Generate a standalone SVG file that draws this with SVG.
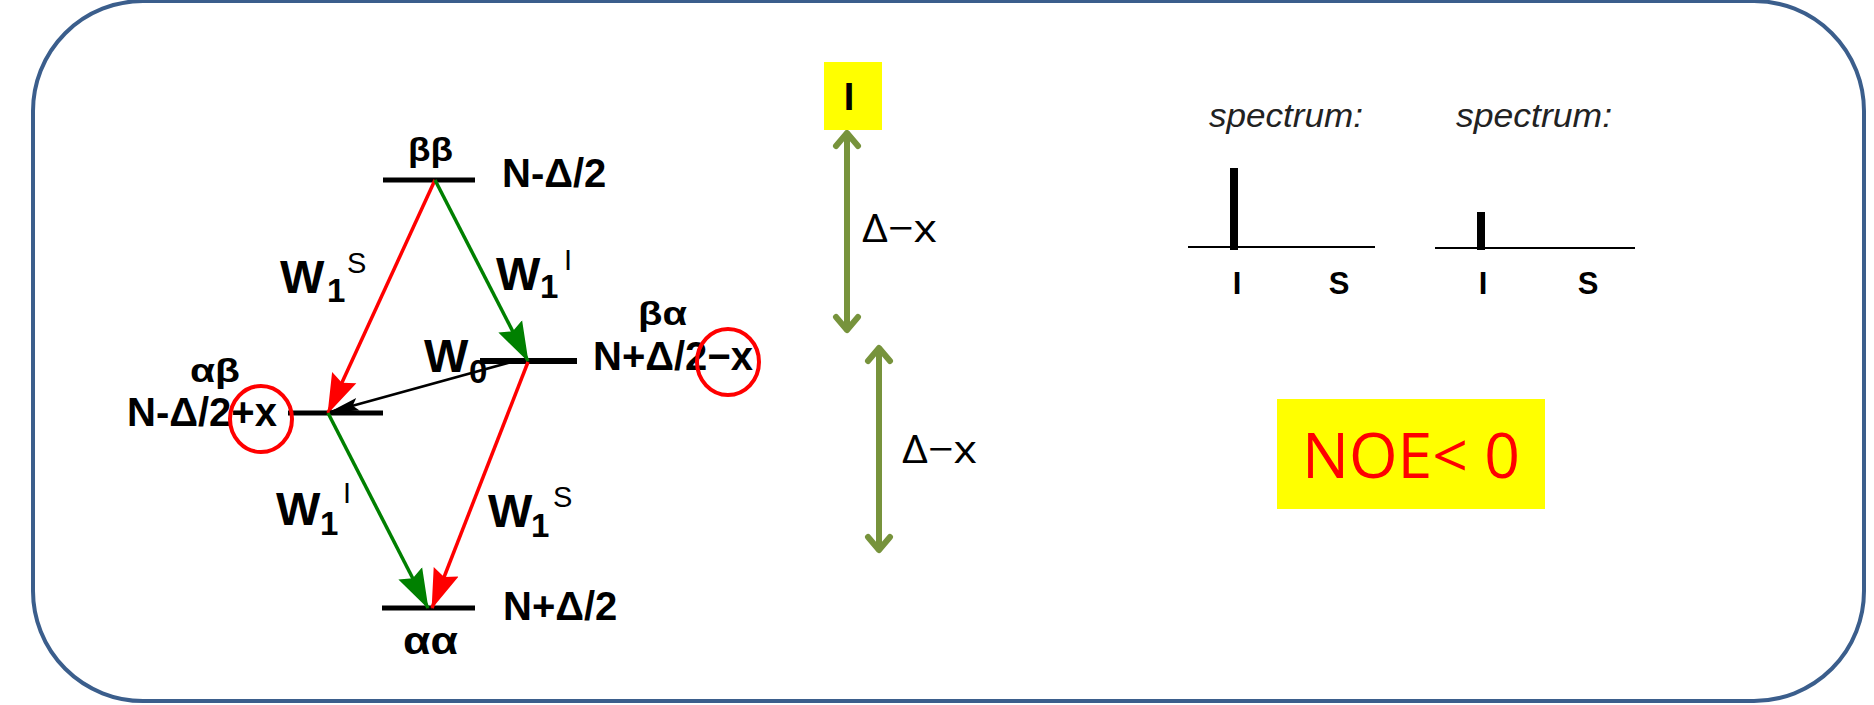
<svg xmlns="http://www.w3.org/2000/svg" width="1874" height="705" viewBox="0 0 1874 705">
<style>
.lvl{stroke:#000;stroke-width:5;fill:none}
.lab{font-family:"Liberation Sans",Arial,sans-serif;font-weight:bold;fill:#000}
.gr{font-family:"Liberation Sans",Arial,sans-serif;font-weight:bold;font-size:34px;fill:#000}
.en{font-family:"Liberation Sans",Arial,sans-serif;font-weight:bold;font-size:40px;fill:#000}
.big{font-size:47px}
.sub{font-size:33px}
.sup{font-size:29px;font-weight:normal}
.red{stroke:#FF0000;stroke-width:3.5;fill:none}
.grn{stroke:#008000;stroke-width:3.5;fill:none}
.blk{stroke:#000;stroke-width:2.5;fill:none}
.ring{stroke:#FF0000;stroke-width:4;fill:none}
.dbl{stroke:#77933C;stroke-width:6;fill:none}
.dx{font-family:"Open Sans","Liberation Sans",sans-serif;font-size:39px;fill:#000}
.spec{font-family:"Liberation Sans",Arial,sans-serif;font-style:italic;font-size:33px;fill:#222}
.ax{stroke:#000;stroke-width:2}
.pk{stroke:#000;stroke-width:8}
.is{font-family:"Liberation Sans",Arial,sans-serif;font-weight:bold;font-size:31px;fill:#000}
</style>
<defs>
<marker id="ahR" markerUnits="userSpaceOnUse" markerWidth="40" markerHeight="30" viewBox="0 0 36 24" refX="35" refY="12" orient="auto"><path d="M0,0 L36,12 L0,24 L5,12 z" fill="#FF0000"/></marker>
<marker id="ahG" markerUnits="userSpaceOnUse" markerWidth="40" markerHeight="30" viewBox="0 0 36 24" refX="35" refY="12" orient="auto"><path d="M0,0 L36,12 L0,24 L5,12 z" fill="#008000"/></marker>
<marker id="ahK" markerUnits="userSpaceOnUse" markerWidth="30" markerHeight="14" viewBox="0 0 28 12" refX="27" refY="6" orient="auto"><path d="M0,0 L28,6 L0,12 L5,6 z" fill="#000"/></marker>
<marker id="chev" markerUnits="userSpaceOnUse" markerWidth="40" markerHeight="40" viewBox="-20 -20 40 40" refX="0" refY="0" orient="auto-start-reverse"><path d="M-13,-11 L0,0 L-13,11" fill="none" stroke="#77933C" stroke-width="6" stroke-linecap="round" stroke-linejoin="round"/></marker>
</defs>

<rect id="frame" x="33" y="1" width="1831" height="700" rx="110" ry="110" fill="#fff" stroke="#3B5E8C" stroke-width="4"/>

<g id="level-bb">
<line class="lvl" x1="383" y1="180" x2="475" y2="180"/>
<text class="gr" x="408" y="161" textLength="45" lengthAdjust="spacingAndGlyphs">ββ</text>
<text class="en" x="502" y="187">N-Δ/2</text>
</g>
<g id="level-ba">
<line class="lvl" x1="480" y1="361" x2="577" y2="361" style="stroke-width:6"/>
<text class="gr" x="638" y="325" textLength="49" lengthAdjust="spacingAndGlyphs">βα</text>
<text class="en" x="593" y="370">N+Δ/2−x</text>
<ellipse class="ring" cx="728" cy="362" rx="31" ry="33"/>
</g>
<g id="level-ab">
<line class="lvl" x1="288" y1="413" x2="383" y2="413"/>
<text class="gr" x="190" y="382" textLength="50" lengthAdjust="spacingAndGlyphs">αβ</text>
<text class="en" x="127" y="426">N-Δ/2+x</text>
<ellipse class="ring" cx="261" cy="419" rx="31" ry="33"/>
</g>
<g id="level-aa">
<line class="lvl" x1="382" y1="608" x2="475" y2="608"/>
<text class="gr" x="403" y="654" textLength="55" lengthAdjust="spacingAndGlyphs" style="font-size:38px">αα</text>
<text class="en" x="503" y="620">N+Δ/2</text>
</g>

<g id="connectors">
<line class="red" x1="435" y1="180" x2="328" y2="413" marker-end="url(#ahR)"/>
<line class="grn" x1="435" y1="180" x2="528" y2="361" marker-end="url(#ahG)"/>
<line class="red" x1="528" y1="362" x2="432" y2="608" marker-end="url(#ahR)"/>
<line class="grn" x1="328" y1="413" x2="428" y2="608" marker-end="url(#ahG)"/>
<line class="blk" x1="515" y1="361" x2="330" y2="412" marker-end="url(#ahK)"/>
<line class="dbl" x1="847" y1="133" x2="847" y2="330" marker-start="url(#chev)" marker-end="url(#chev)"/>
<line class="dbl" x1="879" y1="348" x2="879" y2="550" marker-start="url(#chev)" marker-end="url(#chev)"/>
</g>

<g id="rate-labels">
<text class="lab"><tspan class="big" x="280" y="293">W</tspan><tspan class="sub" x="327" y="302">1</tspan><tspan class="sup" x="347" y="273">S</tspan></text>
<text class="lab"><tspan class="big" x="496" y="290">W</tspan><tspan class="sub" x="540" y="298">1</tspan><tspan class="sup" x="564" y="270">I</tspan></text>
<text class="lab"><tspan class="big" x="276" y="525">W</tspan><tspan class="sub" x="320" y="535">1</tspan><tspan class="sup" x="343" y="503">I</tspan></text>
<text class="lab"><tspan class="big" x="488" y="527">W</tspan><tspan class="sub" x="531" y="537">1</tspan><tspan class="sup" x="553" y="507">S</tspan></text>
<text class="lab"><tspan class="big" x="424" y="372">W</tspan><tspan class="sub" x="469" y="383">0</tspan></text>
</g>

<g id="spin-I">
<rect x="824" y="62" width="58" height="68" fill="#FFFF00"/>
<text class="lab" x="849" y="110" text-anchor="middle" style="font-size:38px">I</text>
</g>
<g id="gap-labels">
<text class="dx" x="862" y="242" textLength="75" lengthAdjust="spacingAndGlyphs">Δ−x</text>
<text class="dx" x="902" y="463" textLength="75" lengthAdjust="spacingAndGlyphs">Δ−x</text>
</g>

<g id="spectrum-1">
<text class="spec" x="1209" y="127" textLength="154" lengthAdjust="spacingAndGlyphs">spectrum:</text>
<line class="ax" x1="1188" y1="247" x2="1375" y2="247"/>
<line class="pk" x1="1234" y1="168" x2="1234" y2="250"/>
<text class="is" x="1237" y="294" text-anchor="middle">I</text>
<text class="is" x="1339" y="294" text-anchor="middle">S</text>
</g>
<g id="spectrum-2">
<text class="spec" x="1456" y="127" textLength="156" lengthAdjust="spacingAndGlyphs">spectrum:</text>
<line class="ax" x1="1435" y1="248" x2="1635" y2="248"/>
<line class="pk" x1="1481" y1="212" x2="1481" y2="250"/>
<text class="is" x="1483" y="294" text-anchor="middle">I</text>
<text class="is" x="1588" y="294" text-anchor="middle">S</text>
</g>

<g id="noe">
<rect x="1277" y="399" width="268" height="110" fill="#FFFF00"/>
<text x="1302" y="478" textLength="218" lengthAdjust="spacingAndGlyphs" style="font-family:'Open Sans','Liberation Sans',sans-serif;font-size:63px;fill:#FF0000">NOE&lt; 0</text>
</g>
</svg>
